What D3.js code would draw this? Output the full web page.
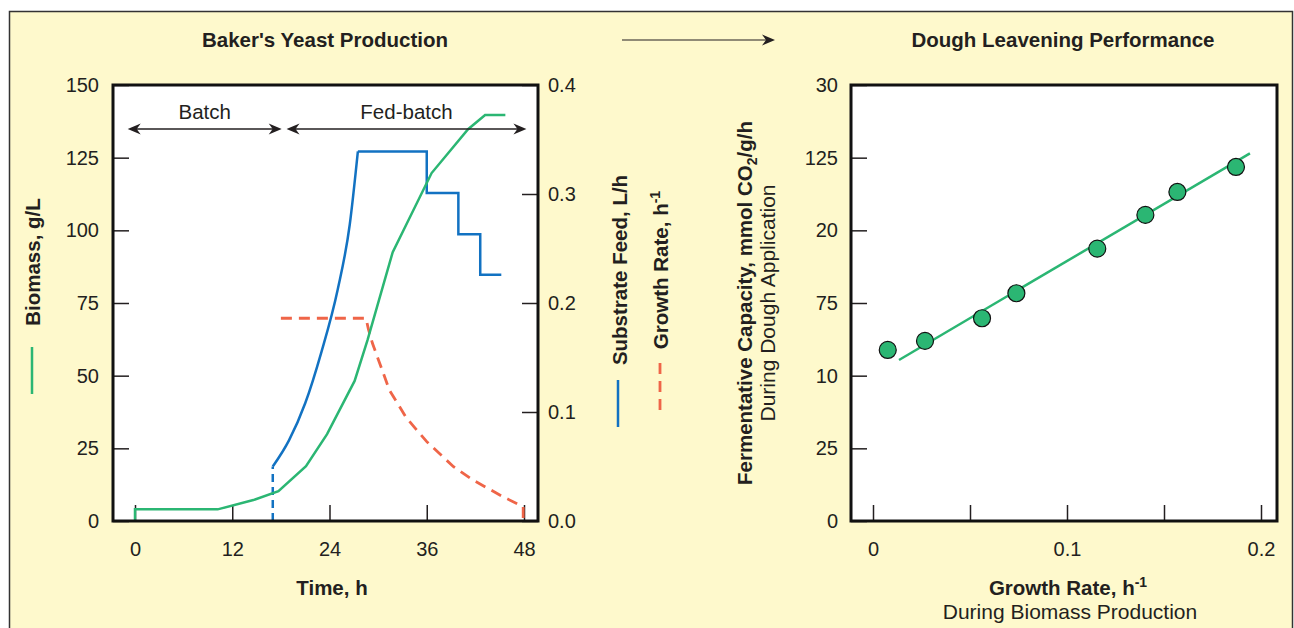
<!DOCTYPE html>
<html>
<head>
<meta charset="utf-8">
<script src="https://cdn.jsdelivr.net/npm/d3@7"></script>
<style>
  body { margin: 0; background: #fff; }
  svg text { font-family: 'Liberation Sans', Arial, Helvetica, sans-serif; fill: #231f20; }
</style>
</head>
<body>
<svg id="chart" width="1294" height="628"></svg>
<script>
// ---- data ----
let timeTicks = [0, 12, 24, 36, 48];
let biomassTicks = [0, 25, 50, 75, 100, 125, 150];
let feedTicks = [0, 0.1, 0.2, 0.3, 0.4];
let feedTickLabels = ['0.0', '0.1', '0.2', '0.3', '0.4'];

let biomassT = [0, 0, 10.2, 14.6, 17.7, 21.1, 23.7, 27.1, 28.7, 31.8, 36.6, 41.1, 43.2, 45.7];
let biomassV = [0, 4, 4, 7.2, 10.3, 18.9, 29.9, 48.2, 62.3, 92.5, 119.7, 134.8, 139.7, 139.7];

let feedStartT = [17.0, 17.0];
let feedStartV = [0, 0.05];
let feedRampT = [17.0, 19.0, 21.0, 23.0, 25.0, 26.5, 27.5];
let feedRampV = [0.050, 0.074, 0.108, 0.155, 0.212, 0.272, 0.339];
let feedStepT = [27.5, 36.0, 39.9, 42.6, 45.2];
let feedStepV = [0.339, 0.301, 0.263, 0.226, 0.226];

let growthT = [18.0, 28.5, 28.8, 29.3, 31.4, 33.5, 36.0, 39.3, 41.7, 45.4, 47.9, 47.9];
let growthV = [0.186, 0.186, 0.176, 0.163, 0.120, 0.0945, 0.0728, 0.0498, 0.0376, 0.0223, 0.0131, 0];

let phaseNames = ['Batch', 'Fed-batch'];
let phaseStart = [-0.9, 18.7];
let phaseEnd = [18.1, 48.3];

let rateTicks = [0, 0.05, 0.1, 0.15, 0.2];
let rateTickLabels = ['0', '', '0.1', '', '0.2'];
let capTicks = [0, 5, 10, 15, 20, 25, 30];
let capTickLabels = ['0', '25', '10', '75', '20', '125', '30'];

let rateX = [0.0076, 0.0268, 0.0562, 0.0739, 0.1156, 0.1404, 0.1569, 0.1871];
let capacityY = [11.77, 12.39, 13.95, 15.67, 18.74, 21.06, 22.64, 24.36];
let fitX = [0.0134, 0.1943];
let fitY = [11.08, 25.30];

// ---- look ----
let cream = '#fef9cc';
let green = '#2bb673';
let blue = '#1272c2';
let red = '#ef6548';
let ink = '#231f20';
let tickFont = 20;
let redDash = '11,7';

const svg = d3.select('#chart');

svg.append('rect')
  .attr('x', 9.5).attr('y', 11.5)
  .attr('width', 1283).attr('height', 630)
  .attr('fill', cream)
  .attr('stroke', '#333').attr('stroke-width', 1.5);

const zip = (a, b) => a.map((d, i) => [d, b[i]]);

const arrowHead = (g, x, y, dir) => {
  g.append('path')
    .attr('d', 'M0,0 L-13,-5.5 L-9,0 L-13,5.5 Z')
    .attr('transform', 'translate(' + x + ',' + y + ') scale(' + dir + ',1)')
    .attr('fill', ink);
};

const styleAxis = (g) => {
  g.select('.domain').remove();
  g.selectAll('.tick line').attr('stroke', ink).attr('stroke-width', 1.5);
  g.selectAll('.tick text')
    .style('font-size', tickFont + 'px')
    .attr('fill', ink);
};

// ================= left chart =================
let lx0 = 113, lx1 = 538, plotTop = 85, plotBottom = 521;

let xTime = d3.scaleLinear().domain([0, 48]).range([135, 524]);
let yBio = d3.scaleLinear().domain([0, 150]).range([plotBottom, plotTop]);
let yFeed = d3.scaleLinear().domain([0, 0.4]).range([plotBottom, plotTop]);

const left = svg.append('g');

left.append('rect')
  .attr('x', lx0).attr('y', plotTop)
  .attr('width', lx1 - lx0).attr('height', plotBottom - plotTop)
  .attr('fill', '#fff');

left.append('g')
  .attr('transform', 'translate(0,' + plotBottom + ')')
  .call(d3.axisBottom(xTime).tickValues(timeTicks).tickSize(-16).tickPadding(21))
  .call(styleAxis);

left.append('g')
  .attr('transform', 'translate(' + lx0 + ',0)')
  .call(d3.axisLeft(yBio).tickValues(biomassTicks).tickSize(-16).tickPadding(14))
  .call(styleAxis);

left.append('g')
  .attr('transform', 'translate(' + lx1 + ',0)')
  .call(d3.axisRight(yFeed).tickValues(feedTicks).tickSize(-16).tickPadding(10)
    .tickFormat((d, i) => feedTickLabels[i]))
  .call(styleAxis);

let lineT = d3.line()
  .x(d => xTime(d[0]))
  .y(d => yBio(d[1]));
let lineF = d3.line()
  .x(d => xTime(d[0]))
  .y(d => yFeed(d[1]));

// growth rate (dashed)
left.append('path')
  .attr('d', lineF(zip(growthT, growthV)))
  .attr('fill', 'none')
  .attr('stroke', red).attr('stroke-width', 2.8)
  .attr('stroke-dasharray', redDash);

// substrate feed
left.append('path')
  .attr('d', lineF(zip(feedStartT, feedStartV)))
  .attr('fill', 'none')
  .attr('stroke', blue).attr('stroke-width', 2.5)
  .attr('stroke-dasharray', '8,5');
left.append('path')
  .attr('d', lineF.curve(d3.curveMonotoneX)(zip(feedRampT, feedRampV)))
  .attr('fill', 'none')
  .attr('stroke', blue).attr('stroke-width', 2.5);
left.append('path')
  .attr('d', lineF.curve(d3.curveStepAfter)(zip(feedStepT, feedStepV)))
  .attr('fill', 'none')
  .attr('stroke', blue).attr('stroke-width', 2.5);

// biomass
left.append('path')
  .attr('d', lineT(zip(biomassT, biomassV)))
  .attr('fill', 'none')
  .attr('stroke', green).attr('stroke-width', 2.5);

// phase arrows
let arrowY = 129;
phaseNames.forEach((name, i) => {
  let xa = xTime(phaseStart[i]), xb = xTime(phaseEnd[i]);
  left.append('line')
    .attr('x1', xa + 4).attr('x2', xb - 4)
    .attr('y1', arrowY).attr('y2', arrowY)
    .attr('stroke', ink).attr('stroke-width', 1.5);
  arrowHead(left, xa, arrowY, -1);
  arrowHead(left, xb, arrowY, 1);
  left.append('text')
    .attr('x', (xa + xb) / 2).attr('y', 119)
    .attr('text-anchor', 'middle')
    .style('font-size', '20.5px')
    .text(name);
});

left.append('rect')
  .attr('x', lx0).attr('y', plotTop)
  .attr('width', lx1 - lx0).attr('height', plotBottom - plotTop)
  .attr('fill', 'none')
  .attr('stroke', '#111').attr('stroke-width', 3);

left.append('text')
  .attr('x', 325).attr('y', 47)
  .attr('text-anchor', 'middle')
  .style('font-size', '20.5px').style('font-weight', 'bold')
  .text("Baker's Yeast Production");

left.append('text')
  .attr('x', 332).attr('y', 595)
  .attr('text-anchor', 'middle')
  .style('font-size', '20.5px').style('font-weight', 'bold')
  .text('Time, h');

// axis titles with legend keys
left.append('text')
  .attr('transform', 'translate(40,262) rotate(-90)')
  .attr('text-anchor', 'middle')
  .style('font-size', '20.5px').style('font-weight', 'bold')
  .text('Biomass, g/L');
left.append('line')
  .attr('x1', 32).attr('x2', 32).attr('y1', 347).attr('y2', 394)
  .attr('stroke', green).attr('stroke-width', 2.5);

left.append('text')
  .attr('transform', 'translate(627,270) rotate(-90)')
  .attr('text-anchor', 'middle')
  .style('font-size', '20.5px').style('font-weight', 'bold')
  .text('Substrate Feed, L/h');
left.append('line')
  .attr('x1', 618).attr('x2', 618).attr('y1', 380).attr('y2', 427)
  .attr('stroke', blue).attr('stroke-width', 2.5);

let gr = left.append('text')
  .attr('transform', 'translate(668,270) rotate(-90)')
  .attr('text-anchor', 'middle')
  .style('font-size', '20.5px').style('font-weight', 'bold');
gr.append('tspan').text('Growth Rate, h');
gr.append('tspan').attr('dy', -8).style('font-size', '14px').text('-1');
left.append('line')
  .attr('x1', 660).attr('x2', 660).attr('y1', 363).attr('y2', 411)
  .attr('stroke', red).attr('stroke-width', 2.8)
  .attr('stroke-dasharray', redDash);

// connecting arrow
svg.append('line')
  .attr('x1', 622).attr('x2', 770).attr('y1', 40).attr('y2', 40)
  .attr('stroke', ink).attr('stroke-width', 1.2);
arrowHead(svg, 775, 40, 1);

// ================= right chart =================
let rx0 = 851, rx1 = 1277;
let xRate = d3.scaleLinear().domain([0, 0.2]).range([873, 1261]);
let yCap = d3.scaleLinear().domain([0, 30]).range([plotBottom, plotTop]);

const right = svg.append('g');

right.append('rect')
  .attr('x', rx0).attr('y', plotTop)
  .attr('width', rx1 - rx0).attr('height', plotBottom - plotTop)
  .attr('fill', '#fff');

right.append('g')
  .attr('transform', 'translate(0,' + plotBottom + ')')
  .call(d3.axisBottom(xRate).tickValues(rateTicks).tickSize(-16).tickPadding(21)
    .tickFormat((d, i) => rateTickLabels[i]))
  .call(styleAxis);

right.append('g')
  .attr('transform', 'translate(' + rx0 + ',0)')
  .call(d3.axisLeft(yCap).tickValues(capTicks).tickSize(-16).tickPadding(13)
    .tickFormat((d, i) => capTickLabels[i]))
  .call(styleAxis);

right.append('path')
  .attr('d', d3.line().x(d => xRate(d[0])).y(d => yCap(d[1]))(zip(fitX, fitY)))
  .attr('stroke', green).attr('stroke-width', 2.5);

right.selectAll('.pt')
  .data(zip(rateX, capacityY))
  .enter()
  .append('circle')
  .attr('class', 'pt')
  .attr('cx', d => xRate(d[0]))
  .attr('cy', d => yCap(d[1]))
  .attr('r', 8.5)
  .attr('fill', green)
  .attr('stroke', '#111').attr('stroke-width', 1.2);

right.append('rect')
  .attr('x', rx0).attr('y', plotTop)
  .attr('width', rx1 - rx0).attr('height', plotBottom - plotTop)
  .attr('fill', 'none')
  .attr('stroke', '#111').attr('stroke-width', 3);

right.append('text')
  .attr('x', 1063).attr('y', 47)
  .attr('text-anchor', 'middle')
  .style('font-size', '20.5px').style('font-weight', 'bold')
  .text('Dough Leavening Performance');

let fc = right.append('text')
  .attr('transform', 'translate(752,303) rotate(-90)')
  .attr('text-anchor', 'middle')
  .style('font-size', '20.5px').style('font-weight', 'bold');
fc.append('tspan').text('Fermentative Capacity, mmol CO');
fc.append('tspan').attr('dy', 5).style('font-size', '14px').text('2');
fc.append('tspan').attr('dy', -5).text('/g/h');

right.append('text')
  .attr('transform', 'translate(775,303) rotate(-90)')
  .attr('text-anchor', 'middle')
  .style('font-size', '21px')
  .text('During Dough Application');

let rx = right.append('text')
  .attr('x', 1068).attr('y', 595)
  .attr('text-anchor', 'middle')
  .style('font-size', '20.5px').style('font-weight', 'bold');
rx.append('tspan').text('Growth Rate, h');
rx.append('tspan').attr('dy', -8).style('font-size', '14px').text('-1');

right.append('text')
  .attr('x', 1070).attr('y', 619)
  .attr('text-anchor', 'middle')
  .style('font-size', '21px')
  .text('During Biomass Production');
</script>
</body>
</html>
